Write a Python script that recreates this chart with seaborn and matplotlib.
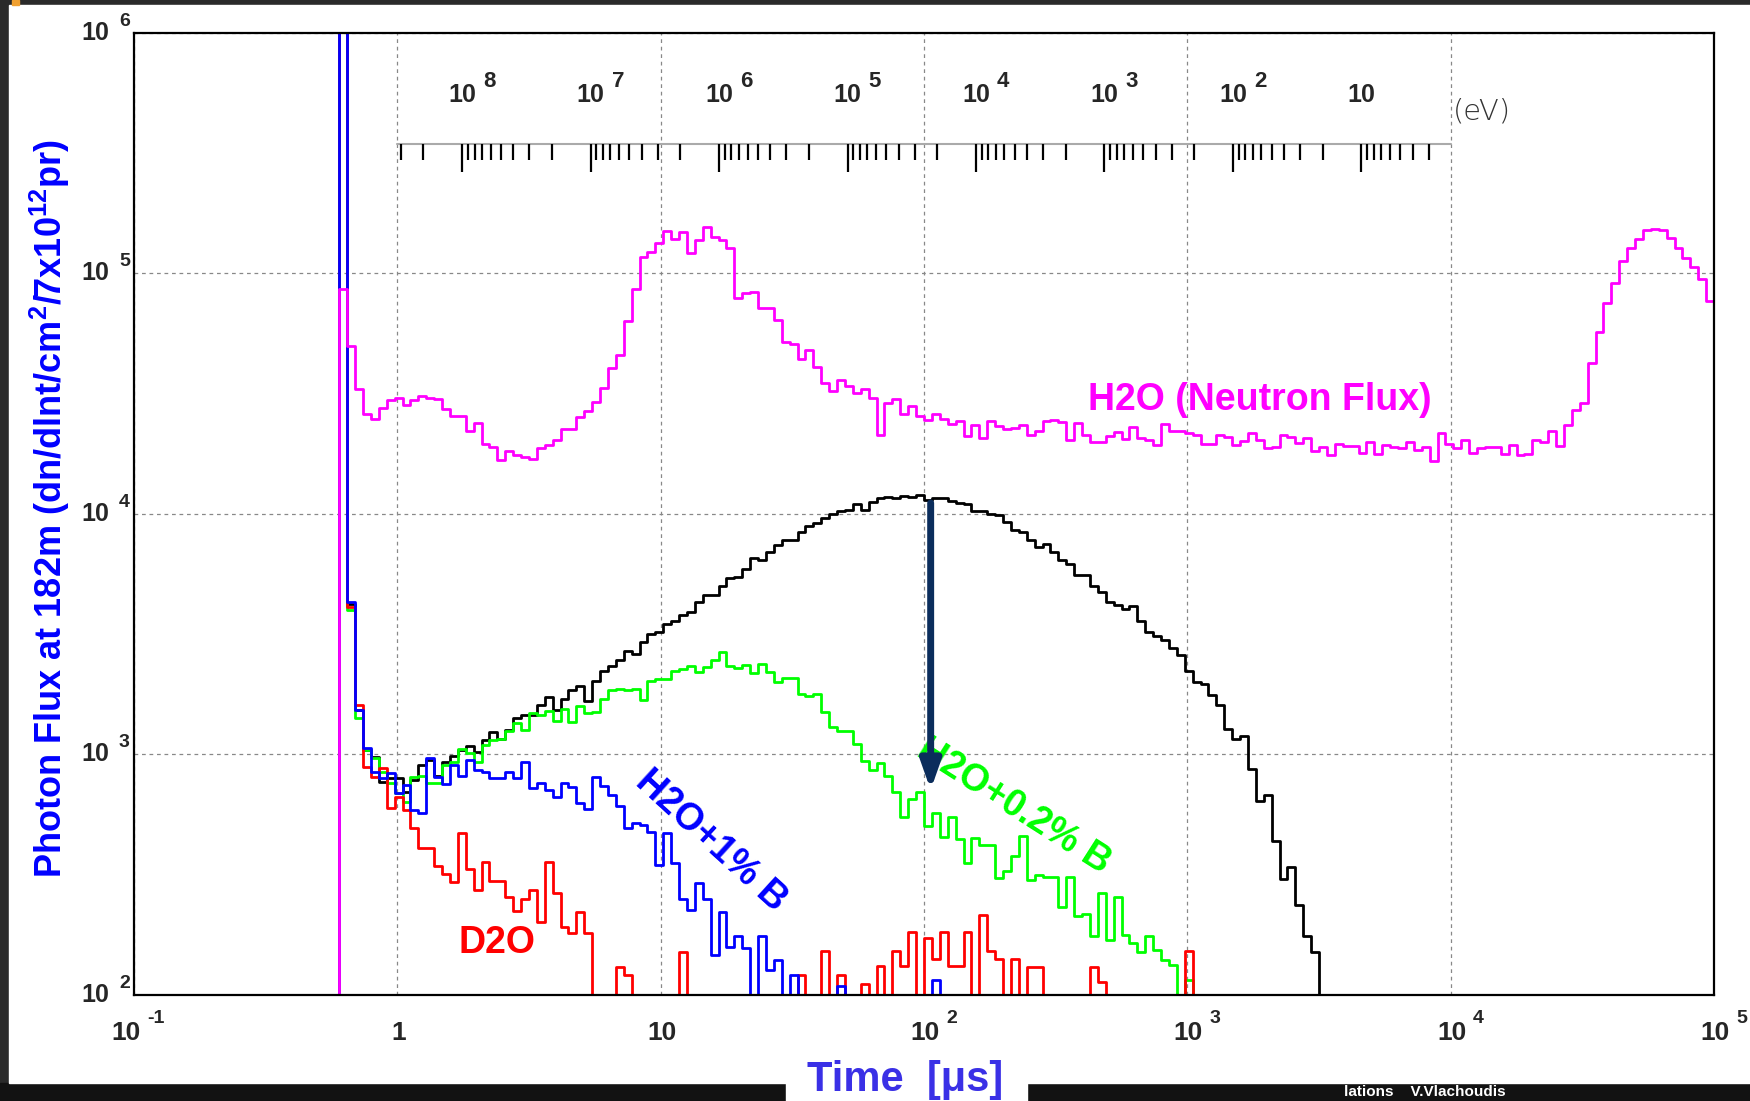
import numpy as np
import pandas as pd
import matplotlib
matplotlib.use("Agg")
import matplotlib.pyplot as plt
import matplotlib.transforms as mtransforms
from matplotlib.patches import Rectangle
from matplotlib.ticker import LogLocator, NullFormatter
import seaborn as sns

# --- binning: log10(t/us) bins of 0.03 decade, starting at the gamma flash ---
LOG_T_START = -0.22
BIN_DEC = 0.03
N_BINS = 174
Y_MIN, Y_MAX = 1e2, 1e6

# bin contents (0 = empty bin)
h2o_neutron = [
    8.6e4, 5.0e4, 3.3e4, 2.6e4, 2.47e4, 2.76e4, 2.98e4, 3.04e4, 2.84e4, 2.97e4,
    3.08e4, 3.02e4, 2.99e4, 2.73e4, 2.56e4, 2.54e4, 2.2e4, 2.39e4, 1.96e4, 1.9e4,
    1.68e4, 1.83e4, 1.75e4, 1.72e4, 1.69e4, 1.88e4, 1.93e4, 2.03e4, 2.26e4, 2.26e4,
    2.52e4, 2.67e4, 2.92e4, 3.35e4, 4.04e4, 4.59e4, 6.31e4, 8.6e4, 1.17e5, 1.23e5,
    1.34e5, 1.5e5, 1.39e5, 1.48e5, 1.22e5, 1.38e5, 1.56e5, 1.41e5, 1.38e5, 1.28e5,
    7.9e4, 8.3e4, 8.4e4, 7.2e4, 7.2e4, 6.4e4, 5.2e4, 5.1e4, 4.39e4, 4.8e4,
    4.06e4, 3.5e4, 3.24e4, 3.61e4, 3.39e4, 3.18e4, 3.31e4, 3.04e4, 2.13e4, 2.89e4,
    2.99e4, 2.6e4, 2.8e4, 2.54e4, 2.45e4, 2.61e4, 2.49e4, 2.37e4, 2.42e4, 2.1e4,
    2.35e4, 2.07e4, 2.43e4, 2.31e4, 2.26e4, 2.27e4, 2.33e4, 2.13e4, 2.22e4, 2.44e4,
    2.45e4, 2.4e4, 2.02e4, 2.39e4, 2.13e4, 1.98e4, 1.98e4, 2.1e4, 2.18e4, 2.05e4,
    2.3e4, 2.06e4, 2.02e4, 1.93e4, 2.37e4, 2.22e4, 2.2e4, 2.17e4, 2.12e4, 1.96e4,
    1.96e4, 2.12e4, 2.08e4, 1.93e4, 2.01e4, 2.17e4, 2.02e4, 1.88e4, 1.9e4, 2.12e4,
    2.08e4, 1.97e4, 2.07e4, 1.82e4, 1.9e4, 1.75e4, 1.96e4, 1.91e4, 1.91e4, 1.79e4,
    1.99e4, 1.77e4, 1.93e4, 1.9e4, 1.87e4, 1.99e4, 1.85e4, 1.9e4, 1.66e4, 2.16e4,
    1.96e4, 1.88e4, 2.02e4, 1.79e4, 1.88e4, 1.9e4, 1.9e4, 1.78e4, 1.94e4, 1.75e4,
    1.77e4, 2.02e4, 1.98e4, 2.21e4, 1.92e4, 2.35e4, 2.71e4, 2.9e4, 4.22e4, 5.68e4,
    7.55e4, 9.15e4, 1.12e5, 1.27e5, 1.39e5, 1.51e5, 1.53e5, 1.51e5, 1.4e5, 1.27e5,
    1.16e5, 1.06e5, 9.5e4, 7.7e4,
]
h2o_photon = [
    3e6, 4200, 1530, 1043, 978, 770, 794, 794, 700, 782,
    903, 947, 812, 932, 984, 1043, 1083, 1026, 1147, 1243,
    1155, 1263, 1413, 1459, 1459, 1604, 1738, 1530, 1700, 1850,
    1920, 1660, 2020, 2220, 2340, 2460, 2680, 2620, 2930, 3150,
    3220, 3490, 3600, 3810, 3900, 4290, 4600, 4580, 4990, 5420,
    5460, 5910, 6540, 6440, 6930, 7390, 7750, 7800, 8390, 8940,
    9150, 9600, 10000, 10260, 10330, 11000, 10400, 11200, 11600, 11700,
    11660, 11900, 11800, 12000, 11400, 11600, 11660, 11300, 11100, 11000,
    10300, 10300, 10000, 9840, 9230, 8530, 8390, 7750, 7310, 7500,
    6930, 6440, 6200, 5540, 5550, 5020, 4730, 4285, 4170, 4010,
    4120, 3570, 3210, 3100, 2980, 2760, 2590, 2215, 2006, 1966,
    1759, 1604, 1280, 1160, 1190, 865, 641, 680, 435, 303,
    340, 237, 175, 151,
]
h2o_b02 = [
    3e6, 4000, 1413, 1043, 962, 847, 757, 688, 635, 807,
    813, 757, 757, 903, 932, 1049, 1010, 932, 1093, 1148,
    1155, 1251, 1346, 1263, 1482, 1459, 1507, 1381, 1545, 1361,
    1595, 1488, 1497, 1701, 1854, 1871, 1854, 1871, 1686, 2015,
    2061, 2061, 2210, 2268, 2340, 2197, 2303, 2455, 2660, 2328,
    2291, 2357, 2183, 2364, 2197, 1996, 2080, 2080, 1785, 1740,
    1785, 1497, 1297, 1248, 1248, 1099, 937, 857, 919, 810,
    698, 550, 650, 698, 503, 569, 453, 548, 446, 353,
    448, 420, 420, 306, 326, 376, 458, 299, 315, 310,
    308, 231, 310, 213, 217, 176, 265, 169, 256, 178,
    164, 151, 176, 153, 140, 133, 0, 115,
]
h2o_b1 = [
    3e6, 4300, 1530, 1059, 847, 794, 833, 688, 745, 586,
    568, 962, 807, 752, 903, 813, 947, 861, 847, 800,
    800, 847, 794, 932, 722, 757, 711, 667, 757, 733,
    625, 590, 802, 738, 678, 610, 492, 520, 508, 477,
    348, 472, 354, 251, 226, 292, 251, 146, 221, 158,
    175, 157, 0, 175, 127, 140, 0, 121, 0, 0,
    0, 0, 0, 109, 0, 0, 0, 0, 0, 0,
    0, 0, 0, 0, 0, 115,
]
d2o = [
    3e6, 4100, 1604, 889, 807, 875, 596, 667, 586, 492,
    406, 406, 343, 318, 295, 472, 335, 274, 356, 298,
    298, 254, 224, 251, 274, 201, 356, 264, 192, 181,
    221, 181, 0, 0, 0, 131, 121, 0, 0, 0,
    0, 0, 0, 151, 0, 0, 0, 0, 0, 0,
    0, 0, 0, 0, 0, 0, 0, 0, 121, 0,
    0, 152, 0, 121, 0, 0, 111, 0, 132, 0,
    152, 132, 182, 0, 173, 141, 182, 132, 132, 182,
    0, 214, 152, 141, 0, 141, 0, 131, 131, 0,
    0, 0, 0, 0, 0, 131, 113, 0, 0, 0,
    0, 0, 0, 0, 0, 0, 0, 152,
]

# drawing order: later on top (blue spike over the others, magenta over blue)
series_names = ["H2O photons", "H2O+0.2% B", "D2O", "H2O+1% B", "H2O (Neutron Flux)"]
series_values = [h2o_photon, h2o_b02, d2o, h2o_b1, h2o_neutron]
series_colors = ["#000000", "#00ff00", "#ff0000", "#0000ff", "#ff00ff"]

# x / y decades and energy scale (eV) drawn inside the frame
x_tick_exp = [-1, 0, 1, 2, 3, 4, 5]
y_tick_exp = [2, 3, 4, 5, 6]
energy_exp = [8, 7, 6, 5, 4, 3, 2, 1]
# time of flight mapping: log10(t) = T_AT_1E8 + SLOPE*(8 - log10(E))
T_AT_1E8 = 0.2458
E_SLOPE = 0.4879


def energy_to_time(energy):
    return 10 ** (T_AT_1E8 + E_SLOPE * (8 - np.log10(energy)))


sns.set_style("white")
plt.rcParams["font.family"] = ["Liberation Sans", "DejaVu Sans"]
plt.rcParams["mathtext.fontset"] = "custom"
plt.rcParams["mathtext.rm"] = "Liberation Sans"
plt.rcParams["mathtext.bf"] = "Liberation Sans:bold"

fig = plt.figure(figsize=(17.5, 11.01), dpi=100)
fig.patch.set_facecolor("#2a2a2a")
# slide background pieces (behind the axes)
for rect, col in [((0, 0, 1, 0.0166), "#121212"),
                  ((0.0049, 0.0166, 0.9951, 0.9789), "white"),
                  ((0.4494, 0, 0.1375, 0.02), "white"),
                  ((0.0066, 0.9955, 0.0043, 0.0045), "#f0a030")]:
    fig.patches.append(Rectangle(rect[:2], rect[2], rect[3], transform=fig.transFigure,
                                 color=col, zorder=-10))

ax = fig.add_axes([0.07657, 0.09646, 0.90286, 0.87375])
ax.set_facecolor("white")
ax.set_xscale("log")
ax.set_yscale("log")

edges = 10 ** (LOG_T_START + BIN_DEC * np.arange(N_BINS + 1))
frames = []
for name, vals in zip(series_names, series_values):
    v = np.zeros(N_BINS)
    v[:len(vals)] = vals
    v = np.maximum(v, Y_MIN)  # empty bins sit on the frame, as in ROOT
    x = np.concatenate([[edges[0]], edges])
    y = np.concatenate([[Y_MIN], v, [Y_MIN]])
    frames.append(pd.DataFrame({"t": x, "flux": y, "sample": name}))
df = pd.concat(frames, ignore_index=True)

sns.lineplot(data=df, x="t", y="flux", hue="sample", hue_order=series_names,
             palette=dict(zip(series_names, series_colors)), drawstyle="steps-post",
             estimator=None, sort=False, lw=2.0, legend=False, ax=ax)

ax.set_xlim(10.0 ** x_tick_exp[0], 10.0 ** x_tick_exp[-1])
ax.set_ylim(Y_MIN, Y_MAX)
ax.set_xlabel("")
ax.set_ylabel("")
ax.xaxis.set_major_locator(LogLocator(base=10, numticks=20))
ax.xaxis.set_minor_locator(LogLocator(base=10, subs=np.arange(2, 10), numticks=20))
ax.yaxis.set_major_locator(LogLocator(base=10, numticks=20))
ax.yaxis.set_minor_locator(LogLocator(base=10, subs=np.arange(2, 10), numticks=20))
ax.xaxis.set_minor_formatter(NullFormatter())
ax.yaxis.set_minor_formatter(NullFormatter())
ax.tick_params(which="both", direction="in", top=False, right=False,
               labelbottom=False, labelleft=False, colors="#444444")
ax.tick_params(which="major", length=12, width=1)
ax.tick_params(which="minor", length=7, width=1)
ax.grid(True, which="major", ls=(0, (3, 3)), color="#888888", lw=0.9)
for sp in ax.spines.values():
    sp.set_linewidth(1.6)
    sp.set_color("black")

# ROOT style tick labels: "10" plus a raised exponent
xtrans = mtransforms.blended_transform_factory(ax.transData, ax.transAxes)
for e in x_tick_exp:
    xt = 10.0 ** e
    if e in (0, 1):
        ax.annotate(str(int(xt)), xy=(xt, 0), xycoords=xtrans, xytext=(1, -26),
                    textcoords="offset pixels", ha="center", va="top",
                    fontsize=19, fontweight="bold", annotation_clip=False)
        continue
    shift = -8 if e < 0 else 1
    ax.annotate("10", xy=(xt, 0), xycoords=xtrans, xytext=(shift, -26),
                textcoords="offset pixels", ha="center", va="top",
                fontsize=19, fontweight="bold", annotation_clip=False)
    ax.annotate(str(e), xy=(xt, 0), xycoords=xtrans, xytext=(shift + 21, -28),
                textcoords="offset pixels", ha="left", va="baseline",
                fontsize=14, fontweight="bold", annotation_clip=False)

ytrans = mtransforms.blended_transform_factory(ax.transAxes, ax.transData)
for e in y_tick_exp:
    yt = 10.0 ** e
    ax.annotate("10", xy=(0, yt), xycoords=ytrans, xytext=(-25, 0),
                textcoords="offset pixels", ha="right", va="center",
                fontsize=18, fontweight="bold", annotation_clip=False)
    ax.annotate(str(e), xy=(0, yt), xycoords=ytrans, xytext=(-15, 7),
                textcoords="offset pixels", ha="left", va="baseline",
                fontsize=14, fontweight="bold", annotation_clip=False)

# energy scale inside the frame
E_AXIS_Y = 0.884
major_len = 28 / 962
minor_len = 16 / 962
ax.plot([1, 1e4], [E_AXIS_Y, E_AXIS_Y], transform=xtrans, color="#aaaaaa", lw=1.5)
minor_t = []
for n in range(0, 9):
    for s in range(2, 10):
        tt = energy_to_time(s * 10.0 ** n)
        if 1 <= tt <= 1e4:
            minor_t.append(tt)
major_t = [energy_to_time(10.0 ** n) for n in energy_exp]
ax.vlines(minor_t, E_AXIS_Y - minor_len, E_AXIS_Y, transform=xtrans, color="black", lw=1.6)
ax.vlines(major_t, E_AXIS_Y - major_len, E_AXIS_Y, transform=xtrans, color="black", lw=1.6)
for n, tt in zip(energy_exp, major_t):
    ax.text(tt, 0.928, "10", transform=xtrans, ha="center", va="baseline",
            fontsize=18, fontweight="bold")
    if n > 1:
        ax.annotate(str(n), xy=(tt, 0.928), xycoords=xtrans, xytext=(21, 15),
                    textcoords="offset pixels", ha="left", va="baseline",
                    fontsize=16, fontweight="bold")
ax.annotate("(eV)", xy=(1e4, 0.918), xycoords=xtrans, xytext=(2, 0),
            textcoords="offset pixels", ha="left", va="center",
            fontsize=21, family="DejaVu Sans", fontweight="light", color="#333333")

# curve labels
ax.text(419, 2.70e4, "H2O (Neutron Flux)", color="#ff00ff", fontsize=27,
        fontweight="bold", ha="left", va="baseline")
ax.text(1.70, 149, "D2O", color="#ff0000", fontsize=27, fontweight="bold",
        ha="left", va="baseline")
ax.text(15.6, 435, "H2O+1% B", color="#0000ff", fontsize=27, fontweight="bold",
        ha="center", va="center", rotation=-42.4, rotation_mode="anchor")
ax.text(219, 610, "H2O+0.2% B", color="#00ff00", fontsize=27, fontweight="bold",
        ha="center", va="center", rotation=-32.5, rotation_mode="anchor")

# boron effect arrow at ~100 us
ax.annotate("", xy=(106, 711), xytext=(106, 1.11e4),
            arrowprops=dict(arrowstyle="-|>,head_length=0.85,head_width=0.3",
                            color="#0b2d5c", lw=5, mutation_scale=20,
                            shrinkA=0, shrinkB=0))

fig.text(0.0286, 0.5386,
         r"Photon Flux at 182m (dn/dlnt/cm$^{\mathbf{2}}$/7x10$^{\mathbf{12}}$pr)",
         rotation=90, ha="center", va="center", fontsize=26, fontweight="bold",
         color="#0000ff")
fig.text(0.517, 0.0091, "Time  [\u03bcs]", ha="center", va="baseline",
         fontsize=30, fontweight="bold", color="#3a30e6")
fig.text(0.768, 0.0015, "lations    V.Vlachoudis", ha="left", va="bottom",
         fontsize=11, fontweight="bold", color="white")

fig.savefig("out.png", dpi=100, facecolor=fig.get_facecolor())
